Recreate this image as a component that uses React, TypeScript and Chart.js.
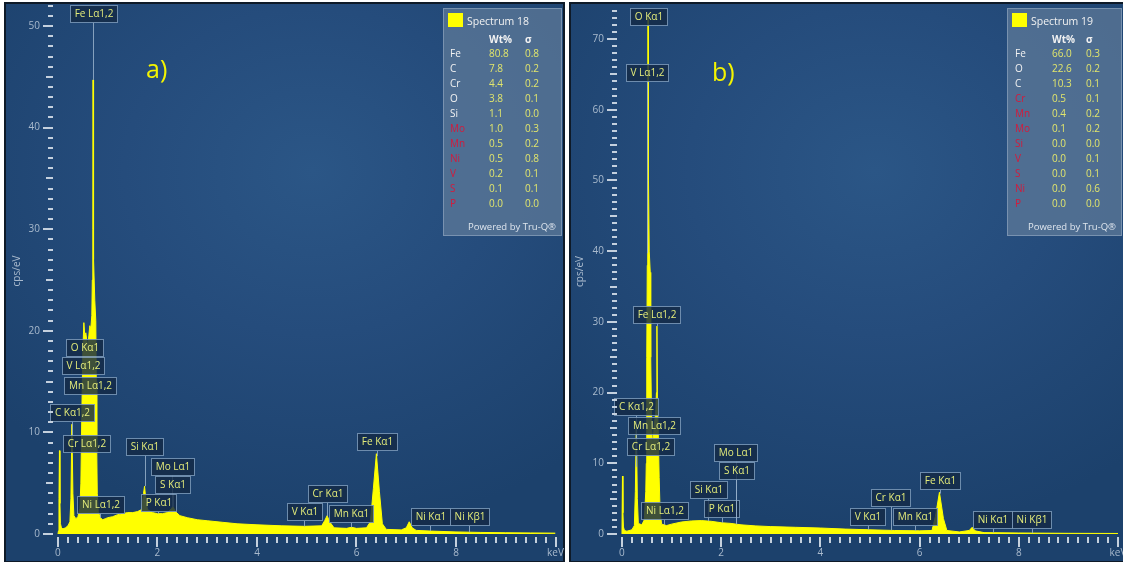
import React, { useEffect, useRef } from "react";
import { Chart, registerables } from "chart.js";

Chart.register(...registerables);

// ---------- Spectrum 18 (panel a) ----------
const energyA = [0, 0.01, 0.02, 0.03, 0.04, 0.05, 0.07, 0.1, 0.15, 0.2, 0.24, 0.26, 0.28, 0.3, 0.32, 0.36, 0.4, 0.44, 0.46, 0.48, 0.5, 0.52, 0.54, 0.56, 0.58, 0.6, 0.62, 0.64, 0.66, 0.68, 0.69, 0.7, 0.705, 0.71, 0.72, 0.74, 0.76, 0.77, 0.78, 0.79, 0.81, 0.85, 0.9, 0.95, 1.0, 1.1, 1.2, 1.3, 1.4, 1.5, 1.6, 1.68, 1.72, 1.74, 1.77, 1.8, 1.9, 2.0, 2.1, 2.2, 2.28, 2.31, 2.36, 2.45, 2.6, 2.8, 3.0, 3.3, 3.6, 4.0, 4.5, 4.95, 5.3, 5.36, 5.41, 5.46, 5.55, 5.8, 5.9, 6.0, 6.2, 6.28, 6.34, 6.4, 6.46, 6.52, 6.6, 6.9, 7.0, 7.06, 7.12, 7.2, 7.5, 8.0, 8.5, 9.0, 9.5, 10.0];
const countsA = [0, 0.3, 3.5, 8.2, 3.0, 1.0, 0.6, 0.5, 0.6, 0.8, 1.2, 3.5, 10.8, 4.0, 1.8, 1.5, 1.7, 2.5, 5, 12, 18, 20.8, 19.5, 19.8, 19, 18.5, 19.5, 20.5, 20.2, 21.5, 25, 30, 44.7, 31, 27, 23, 21, 15, 8, 4, 2.2, 1.6, 1.4, 1.5, 1.6, 1.7, 1.9, 2.0, 2.1, 2.1, 2.2, 2.4, 4.0, 4.7, 3.2, 2.4, 2.1, 2.0, 2.0, 2.1, 2.5, 2.7, 2.2, 1.8, 1.6, 1.4, 1.3, 1.15, 1.0, 0.9, 0.8, 0.75, 0.8, 1.3, 1.8, 1.2, 0.6, 0.55, 0.65, 0.55, 0.6, 1.2, 4.5, 7.9, 4.2, 1.0, 0.45, 0.4, 0.6, 1.2, 0.6, 0.35, 0.28, 0.2, 0.15, 0.12, 0.1, 0.08];

const peakNamesA = ["Fe Lα1,2", "V Lα1,2", "O Kα1", "Mn Lα1,2", "C Kα1,2", "Cr Lα1,2", "Ni Lα1,2", "Si Kα1", "Mo Lα1", "S Kα1", "P Kα1", "V Kα1", "Cr Kα1", "Mn Kα1", "Fe Kα1", "Ni Kα1", "Ni Kβ1"];
const peakEnergiesA = [0.705, 0.511, 0.525, 0.637, 0.277, 0.573, 0.851, 1.74, 2.293, 2.307, 2.013, 4.952, 5.415, 5.899, 6.404, 7.478, 8.265];
const peakLevelsA = [51.2, 16.55, 18.4, 14.6, 12.0, 8.95, 2.9, 8.6, 6.6, 4.9, 3.1, 2.2, 4.0, 2.0, 9.1, 1.67, 1.67];

const resultElementsA = ["Fe", "C", "Cr", "O", "Si", "Mo", "Mn", "Ni", "V", "S", "P"];
const resultWtA = ["80.8", "7.8", "4.4", "3.8", "1.1", "1.0", "0.5", "0.5", "0.2", "0.1", "0.0"];
const resultSigmaA = ["0.8", "0.2", "0.2", "0.1", "0.0", "0.3", "0.2", "0.8", "0.1", "0.1", "0.0"];
const resultFlaggedA = [false, false, false, false, false, true, true, true, true, true, true];

// ---------- Spectrum 19 (panel b) ----------
const energyB = [0, 0.01, 0.02, 0.03, 0.05, 0.1, 0.2, 0.25, 0.27, 0.29, 0.31, 0.33, 0.4, 0.45, 0.48, 0.49, 0.5, 0.51, 0.52, 0.525, 0.535, 0.55, 0.57, 0.58, 0.6, 0.62, 0.64, 0.66, 0.68, 0.695, 0.705, 0.715, 0.73, 0.75, 0.77, 0.8, 0.9, 1.0, 1.2, 1.4, 1.6, 1.8, 2.0, 2.2, 2.4, 2.7, 3.0, 3.5, 4.0, 4.5, 5.0, 5.5, 6.0, 6.25, 6.32, 6.4, 6.48, 6.55, 6.8, 7.0, 7.06, 7.12, 7.3, 8.0, 9.0, 10.0];
const countsB = [0, 8.2, 3, 1.0, 0.5, 0.4, 0.6, 1.2, 6, 16, 5, 1.5, 1.3, 2.0, 6, 10, 25, 38, 55, 73, 50, 40, 37, 25, 15, 12, 14.5, 16, 17, 20, 29.4, 19, 15, 8, 3, 1.4, 1.2, 1.4, 1.7, 1.85, 1.9, 1.8, 1.6, 1.5, 1.3, 1.15, 1.05, 0.95, 0.85, 0.7, 0.6, 0.5, 0.45, 0.5, 2.5, 5.9, 2.2, 0.5, 0.3, 0.5, 0.95, 0.45, 0.2, 0.15, 0.1, 0.08];

const peakNamesB = ["O Kα1", "V Lα1,2", "Fe Lα1,2", "C Kα1,2", "Mn Lα1,2", "Cr Lα1,2", "Ni Lα1,2", "Si Kα1", "P Kα1", "Mo Lα1", "S Kα1", "V Kα1", "Cr Kα1", "Mn Kα1", "Fe Kα1", "Ni Kα1", "Ni Kβ1"];
const peakEnergiesB = [0.525, 0.511, 0.705, 0.277, 0.637, 0.573, 0.851, 1.74, 2.013, 2.293, 2.307, 4.952, 5.415, 5.899, 6.404, 7.478, 8.265];
const peakLevelsB = [73.2, 65.2, 31.0, 18.0, 15.3, 12.4, 3.3, 6.3, 3.6, 11.6, 9.0, 2.5, 5.1, 2.5, 7.6, 2.1, 2.1];

const resultElementsB = ["Fe", "O", "C", "Cr", "Mn", "Mo", "Si", "V", "S", "Ni", "P"];
const resultWtB = ["66.0", "22.6", "10.3", "0.5", "0.4", "0.1", "0.0", "0.0", "0.0", "0.0", "0.0"];
const resultSigmaB = ["0.3", "0.2", "0.1", "0.1", "0.2", "0.2", "0.0", "0.1", "0.1", "0.6", "0.0"];
const resultFlaggedB = [false, false, false, true, true, true, true, true, true, true, true];

// ---------- axes ----------
const xMajorTicks = [0, 2, 4, 6, 8, 10];
const FONT = "'Open Sans', 'Noto Sans', sans-serif";
const TICK_MARK = "rgba(205,216,228,0.95)";
const TICK_TEXT = "#a9bacd";

function interpolate(xs: number[], ys: number[], e: number) {
  for (let i = 1; i < xs.length; i++) {
    if (e <= xs[i]) {
      const t = (e - xs[i - 1]) / (xs[i] - xs[i - 1]);
      return ys[i - 1] + t * (ys[i] - ys[i - 1]);
    }
  }
  return ys[ys.length - 1];
}

const tickPlugin = {
  id: "edsTicks",
  afterDraw(chart: any) {
    const { ctx, chartArea, scales } = chart;
    const xs = scales.x;
    const ys = scales.y;
    ctx.save();
    ctx.strokeStyle = TICK_MARK;
    ctx.lineWidth = 2;
    ctx.beginPath();
    const last = xMajorTicks[xMajorTicks.length - 1];
    const step = (xMajorTicks[1] - xMajorTicks[0]) / 10;
    const n = Math.round(last / step);
    for (let i = 0; i <= n; i++) {
      const px = Math.round(xs.getPixelForValue(i * step));
      const len = i % 10 === 0 ? 10 : 6;
      ctx.moveTo(px, chartArea.bottom);
      ctx.lineTo(px, chartArea.bottom + len);
    }
    const top = Math.floor(ys.max);
    for (let i = 0; i <= top; i++) {
      const py = Math.round(ys.getPixelForValue(i));
      const len = i % 10 === 0 ? 10 : i % 5 === 0 ? 7 : 5;
      ctx.moveTo(chartArea.left - len, py);
      ctx.lineTo(chartArea.left, py);
    }
    ctx.stroke();
    ctx.restore();
  },
};

function makeLabelPlugin(names: string[], energies: number[], levels: number[], ex: number[], cy: number[]) {
  return {
    id: "edsPeakLabels",
    afterDatasetsDraw(chart: any) {
      const { ctx } = chart;
      const xs = chart.scales.x;
      const ys = chart.scales.y;
      ctx.save();
      ctx.font = `10px ${FONT}`;
      names.forEach((name, i) => {
        const cx = xs.getPixelForValue(energies[i]);
        const cyp = ys.getPixelForValue(levels[i]);
        const w = Math.ceil(ctx.measureText(name).width) + 8;
        const h = 17;
        const bx = Math.round(cx - w / 2) + 0.5;
        const by = Math.round(cyp - h / 2) + 0.5;
        const sy = ys.getPixelForValue(interpolate(ex, cy, energies[i]));
        if (sy > by + h) {
          ctx.strokeStyle = "rgba(150,176,202,0.85)";
          ctx.lineWidth = 1;
          ctx.beginPath();
          ctx.moveTo(Math.round(cx) + 0.5, by + h);
          ctx.lineTo(Math.round(cx) + 0.5, sy);
          ctx.stroke();
        }
        ctx.fillStyle = "rgba(20,42,70,0.82)";
        ctx.fillRect(bx, by, w, h);
        ctx.strokeStyle = "rgba(120,150,182,0.9)";
        ctx.lineWidth = 1;
        ctx.strokeRect(bx, by, w, h);
        ctx.fillStyle = "#e4ec7a";
        ctx.textAlign = "center";
        ctx.textBaseline = "middle";
        ctx.fillText(name, bx + w / 2, by + h / 2 + 0.5);
      });
      ctx.restore();
    },
  };
}

type SpecProps = {
  left: number;
  width: number;
  energies: number[];
  counts: number[];
  yMin: number;
  yMax: number;
  yMajor: number[];
  axisWidth: number;
  padRight: number;
  padTop: number;
  titlePad: number;
  names: string[];
  peakE: number[];
  peakL: number[];
};

function SpectrumChart(p: SpecProps) {
  const ref = useRef<HTMLCanvasElement | null>(null);
  useEffect(() => {
    if (!ref.current) return;
    const points = p.energies.map((e, i) => ({ x: e, y: p.counts[i] }));
    const chart = new Chart(ref.current, {
      type: "line",
      data: {
        datasets: [
          {
            data: points,
            borderColor: "#ffff00",
            backgroundColor: "#ffff00",
            borderWidth: 1,
            pointRadius: 0,
            fill: "origin",
            tension: 0,
          } as any,
        ],
      },
      options: {
        animation: false,
        responsive: false,
        devicePixelRatio: 1,
        layout: { padding: { left: 0, right: p.padRight, top: p.padTop, bottom: 0 } },
        plugins: { legend: { display: false }, tooltip: { enabled: false } },
        scales: {
          x: {
            type: "linear",
            min: -0.1,
            max: 10,
            afterBuildTicks: (s: any) => {
              s.ticks = xMajorTicks.map((v) => ({ value: v }));
            },
            afterFit: (s: any) => {
              s.height = 25;
              s.paddingLeft = 0;
              s.paddingRight = 0;
            },
            ticks: {
              autoSkip: false,
              maxRotation: 0,
              color: TICK_TEXT,
              font: { size: 10, family: FONT },
              padding: 1,
              callback: (v: any) => (v === 10 ? "keV" : String(v)),
            },
            grid: { drawOnChartArea: false, drawTicks: true, tickLength: 9, tickColor: "rgba(0,0,0,0)" },
            border: { display: false },
          },
          y: {
            type: "linear",
            min: p.yMin,
            max: p.yMax,
            afterBuildTicks: (s: any) => {
              s.ticks = p.yMajor.map((v) => ({ value: v }));
            },
            afterFit: (s: any) => {
              s.width = p.axisWidth;
              s.paddingTop = 0;
              s.paddingBottom = 0;
            },
            ticks: {
              autoSkip: false,
              color: TICK_TEXT,
              font: { size: 10, family: FONT },
              padding: 3,
              callback: (v: any) => String(v),
            },
            grid: { drawOnChartArea: false, drawTicks: true, tickLength: 10, tickColor: "rgba(0,0,0,0)" },
            border: { display: false },
            title: {
              display: true,
              text: "cps/eV",
              color: TICK_TEXT,
              font: { size: 10, family: FONT },
              padding: { top: p.titlePad, bottom: 0 },
            },
          },
        },
      } as any,
      plugins: [tickPlugin, makeLabelPlugin(p.names, p.peakE, p.peakL, p.energies, p.counts)],
    });
    return () => chart.destroy();
  }, []);
  return (
    <canvas
      ref={ref}
      width={p.width}
      height={562}
      style={{ position: "absolute", left: p.left, top: 0, width: p.width, height: 562 }}
    />
  );
}

type ResultProps = {
  left: number;
  top: number;
  width: number;
  height: number;
  title: string;
  elements: string[];
  wt: string[];
  sigma: string[];
  flagged: boolean[];
  nameX: number;
  wtX: number;
  sigmaX: number;
};

function ResultsBox(r: ResultProps) {
  const row = (top: number): React.CSSProperties => ({ position: "absolute", top, lineHeight: "14px", whiteSpace: "nowrap" });
  return (
    <div
      style={{
        position: "absolute",
        left: r.left,
        top: r.top,
        width: r.width,
        height: r.height,
        boxSizing: "border-box",
        background: "rgba(96,124,154,0.72)",
        border: "1px solid rgba(150,172,196,0.6)",
        fontFamily: FONT,
        fontSize: 10,
        color: "#f2f2f2",
      }}
    >
      <div style={{ position: "absolute", left: 4, top: 4, width: 15, height: 14, background: "#ffff00" }} />
      <div style={{ ...row(5), left: 23, fontSize: 10.5 }}>{r.title}</div>
      <div style={{ ...row(22.5), left: r.wtX, fontWeight: 700 }}>Wt%</div>
      <div style={{ ...row(22.5), left: r.sigmaX, fontWeight: 700 }}>σ</div>
      {r.elements.map((el, i) => (
        <React.Fragment key={el + i}>
          <div style={{ ...row(37 + 15 * i), left: r.nameX, color: r.flagged[i] ? "#d41a3c" : "#f2f2f2" }}>{el}</div>
          <div style={{ ...row(37 + 15 * i), left: r.wtX, color: "#e2e66c" }}>{r.wt[i]}</div>
          <div style={{ ...row(37 + 15 * i), left: r.sigmaX, color: "#e2e66c" }}>{r.sigma[i]}</div>
        </React.Fragment>
      ))}
      <div style={{ ...row(211), right: 5, fontSize: 9.5, color: "#dfe6ee" }}>Powered by Tru-Q®</div>
    </div>
  );
}

const panelBg =
  "radial-gradient(ellipse 75% 65% at 55% 30%, #2b5686 0%, #254c7c 45%, #1c416c 100%)";

export default function App() {
  return (
    <div
      style={{
        position: "fixed",
        left: 0,
        top: 0,
        width: 1123,
        height: 562,
        background: "#ffffff",
        overflow: "hidden",
        fontFamily: FONT,
      }}
    >
      <div style={{ position: "absolute", left: 4, top: 2, width: 561, height: 561, boxSizing: "border-box", border: "2px solid #0e1a28", background: panelBg }} />
      <div style={{ position: "absolute", left: 569, top: 2, width: 556, height: 561, boxSizing: "border-box", border: "2px solid #0e1a28", background: panelBg }} />
      <SpectrumChart
        left={0}
        width={566}
        energies={energyA}
        counts={countsA}
        yMin={-0.3}
        yMax={52.07}
        yMajor={[0, 10, 20, 30, 40, 50]}
        axisWidth={53}
        padRight={10.5}
        padTop={5}
        titlePad={11}
        names={peakNamesA}
        peakE={peakEnergiesA}
        peakL={peakLevelsA}
      />
      <SpectrumChart
        left={566}
        width={557}
        energies={energyB}
        counts={countsB}
        yMin={-0.42}
        yMax={74.67}
        yMajor={[0, 10, 20, 30, 40, 50, 60, 70]}
        axisWidth={51}
        padRight={5}
        padTop={6}
        titlePad={8}
        names={peakNamesB}
        peakE={peakEnergiesB}
        peakL={peakLevelsB}
      />
      <div style={{ position: "absolute", left: 146, top: 52, fontSize: 25, lineHeight: "32px", color: "#f4f400", fontFamily: FONT }}>a)</div>
      <div style={{ position: "absolute", left: 712, top: 55, fontSize: 25, lineHeight: "32px", color: "#f4f400", fontFamily: FONT }}>b)</div>
      <ResultsBox
        left={443}
        top={8}
        width={119}
        height={228}
        title="Spectrum 18"
        elements={resultElementsA}
        wt={resultWtA}
        sigma={resultSigmaA}
        flagged={resultFlaggedA}
        nameX={6}
        wtX={45}
        sigmaX={81}
      />
      <ResultsBox
        left={1007}
        top={8}
        width={115}
        height={228}
        title="Spectrum 19"
        elements={resultElementsB}
        wt={resultWtB}
        sigma={resultSigmaB}
        flagged={resultFlaggedB}
        nameX={7}
        wtX={44}
        sigmaX={78}
      />
    </div>
  );
}
